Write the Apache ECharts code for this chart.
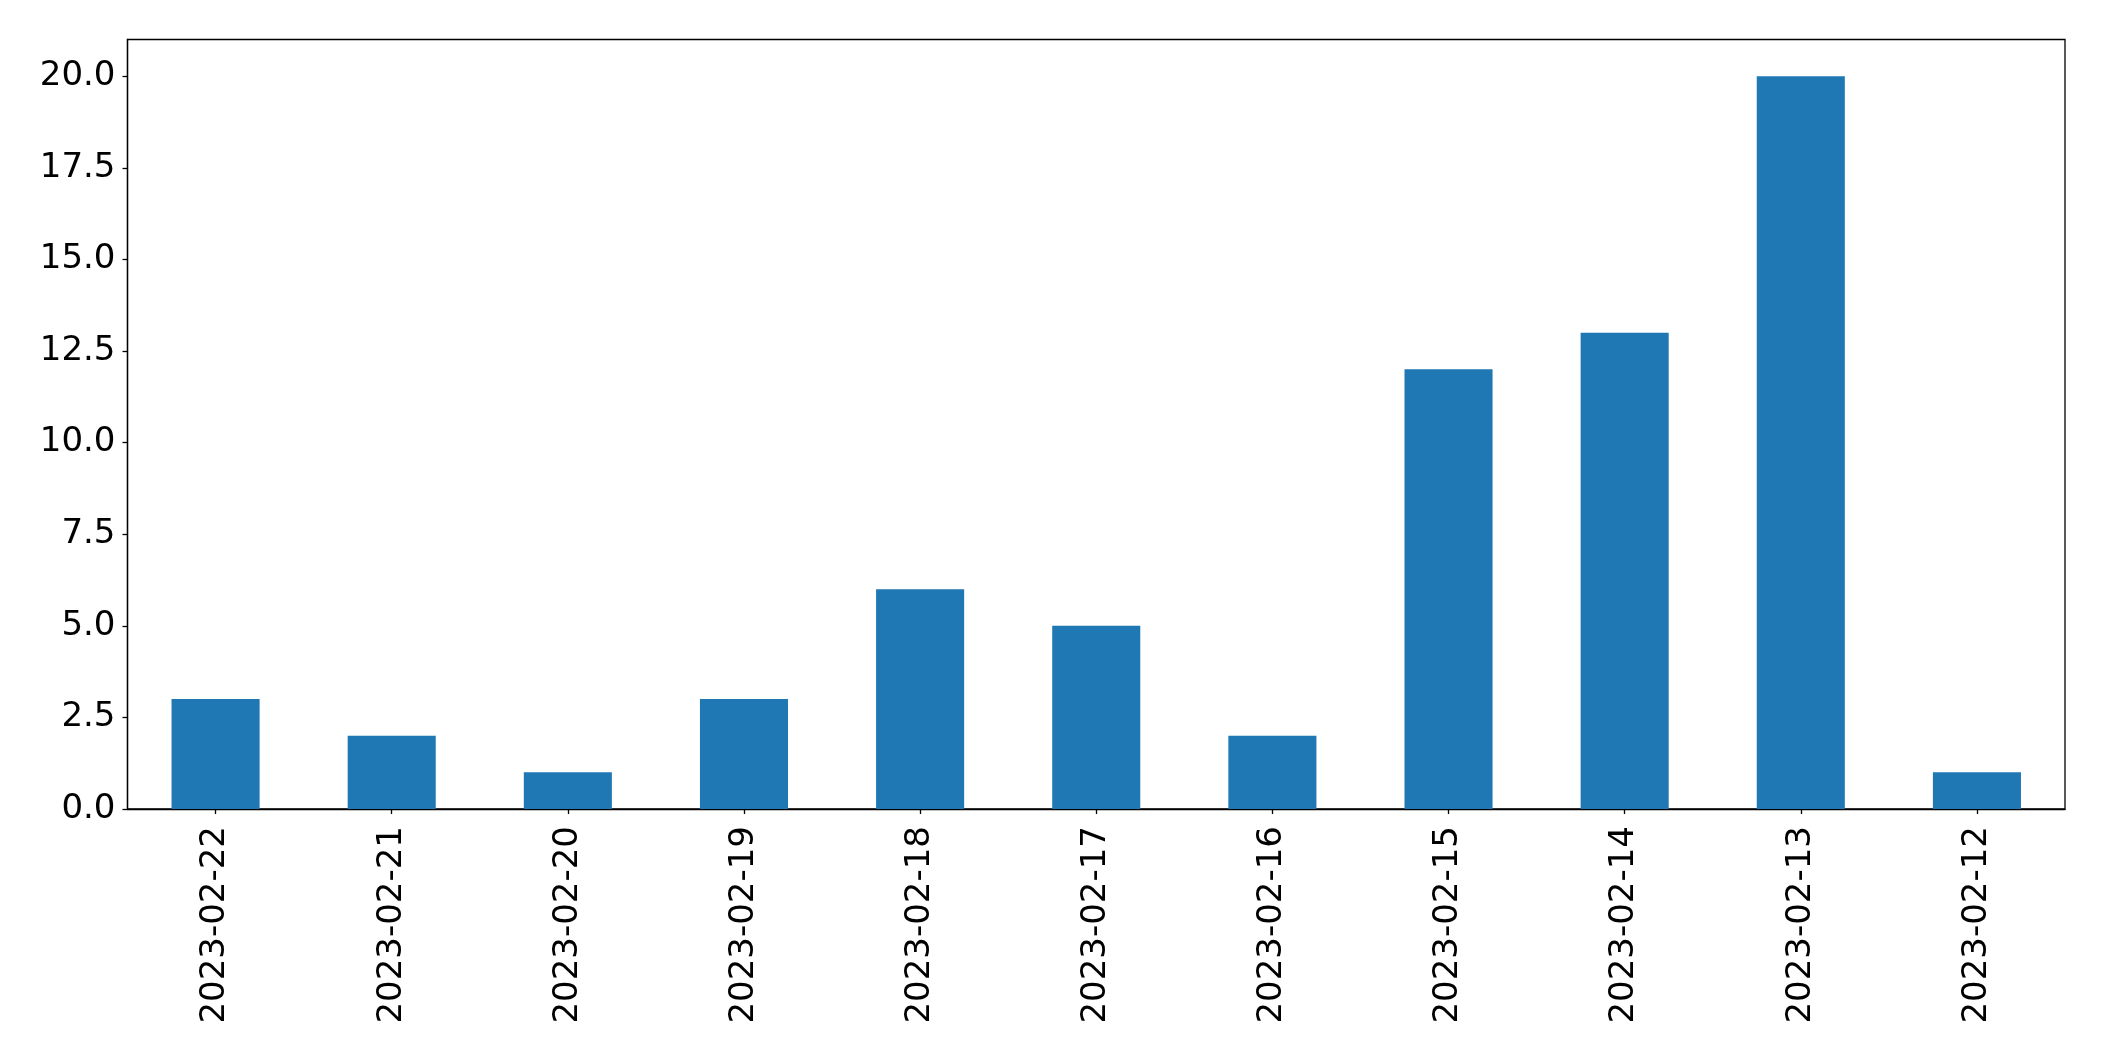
<!DOCTYPE html>
<html>
<head>
<meta charset="utf-8">
<script src="https://cdn.jsdelivr.net/npm/echarts@6/dist/echarts.min.js"></script>
<style>html,body{margin:0;padding:0;background:#fff;}#c{width:2104px;height:1061px;}</style>
</head>
<body>
<div id="c"></div>
<script>
var categories = ['2023-02-22','2023-02-21','2023-02-20','2023-02-19','2023-02-18','2023-02-17','2023-02-16','2023-02-15','2023-02-14','2023-02-13','2023-02-12'];
var values = [3, 2, 1, 3, 6, 5, 2, 12, 13, 20, 1];
var yTicks = [0, 2.5, 5, 7.5, 10, 12.5, 15, 17.5, 20];

var chart = echarts.init(document.getElementById('c'), null, {renderer: 'canvas'});
var font = 'DejaVu Sans';
chart.setOption({
  animation: false,
  backgroundColor: '#ffffff',
  grid: {left: 127.5, right: 39, top: 39.5, bottom: 252, show: true, borderColor: '#000', borderWidth: 1.3, containLabel: false},
  xAxis: {
    type: 'category',
    data: categories,
    boundaryGap: true,
    axisLine: {show: true, lineStyle: {color: '#000', width: 1.3}},
    axisTick: {show: true, alignWithLabel: true, length: 5, lineStyle: {color: '#000', width: 1.3}},
    axisLabel: {rotate: 90, margin: 17, fontFamily: font, fontSize: 34, color: '#000', interval: 0},
    splitLine: {show: false}
  },
  yAxis: {
    type: 'value',
    min: 0,
    max: 21,
    axisLine: {show: true, lineStyle: {color: '#000', width: 1.3}},
    axisTick: {show: true, length: 5, lineStyle: {color: '#000', width: 1.3}, customValues: yTicks},
    axisLabel: {margin: 12, fontFamily: font, fontSize: 34, color: '#000', customValues: yTicks,
      formatter: function (v) { return v.toFixed(1); }},
    splitLine: {show: false}
  },
  series: [{
    type: 'bar',
    data: values,
    barWidth: '50%',
    itemStyle: {color: '#1f77b4'}
  }]
});
</script>
</body>
</html>
